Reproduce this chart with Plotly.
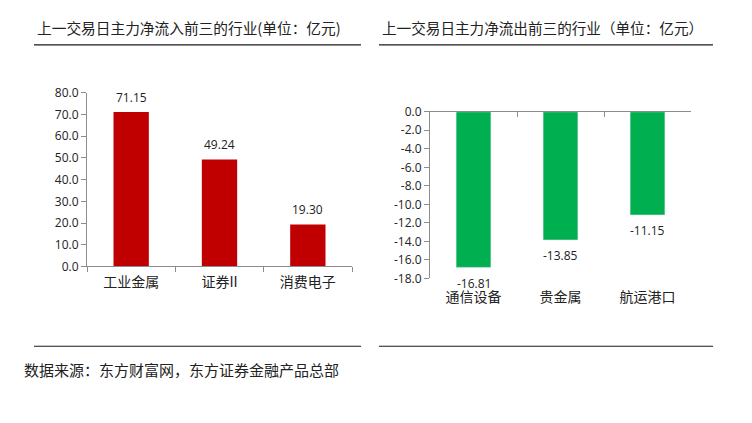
import plotly.graph_objects as go

# 数据
inflow_names = ["工业金属", "证券II", "消费电子"]
inflow_values = [71.15, 49.24, 19.30]
outflow_names = ["通信设备", "贵金属", "航运港口"]
outflow_values = [-16.81, -13.85, -11.15]
left_ticks = [0, 10, 20, 30, 40, 50, 60, 70, 80]
right_ticks = [0, -2, -4, -6, -8, -10, -12, -14, -16, -18]

title_in = "上一交易日主力净流入前三的行业(单位：亿元)"
title_out = "上一交易日主力净流出前三的行业（单位：亿元）"
source = "数据来源：东方财富网，东方证券金融产品总部"

# 截图里图形左移8px、上方偏移16px且纵向略有压缩，这里按截图像素换算
PAD_X, PAD_Y, SY = 8, 16, 0.962
W, H = 736, 423
FONT = "Open Sans, Noto Sans CJK SC, sans-serif"
CJK = "Noto Sans CJK SC, sans-serif"
AXIS = "#8c8c8c"
TXT = "#222222"


def px(x):
    return (x - PAD_X) / W


def py(y):
    return 1 - (y - PAD_Y) / SY / H


fig = go.Figure()

fig.add_trace(go.Bar(
    x=inflow_names, y=inflow_values, width=0.4,
    marker=dict(color="#C00000", line=dict(width=0)),
    xaxis="x", yaxis="y", hoverinfo="skip",
))
fig.add_trace(go.Bar(
    x=outflow_names, y=outflow_values, width=0.4,
    marker=dict(color="#00B050", line=dict(width=0)),
    xaxis="x2", yaxis="y2", hoverinfo="skip",
))
# 只用来画顶部0轴的刻度
fig.add_trace(go.Bar(
    x=outflow_names, y=outflow_values, width=0.4,
    marker=dict(color="rgba(0,0,0,0)"),
    xaxis="x3", yaxis="y2", hoverinfo="skip",
))

annotations = []
for n, v in zip(inflow_names, inflow_values):
    annotations.append(dict(x=n, y=v, xref="x", yref="y", text=f"{v:.2f}",
                            showarrow=False, yshift=15, yanchor="middle",
                            font=dict(family=FONT, size=12, color=TXT)))
for n, v in zip(outflow_names, outflow_values):
    annotations.append(dict(x=n, y=v, xref="x2", yref="y2", text=f"{v:.2f}",
                            showarrow=False, yshift=-16, yanchor="middle",
                            font=dict(family=FONT, size=12, color=TXT)))

annotations += [
    dict(x=px(35), y=py(27), xref="paper", yref="paper", text=title_in,
         showarrow=False, xanchor="left", yanchor="middle",
         font=dict(family=CJK, size=14.7, color=TXT)),
    dict(x=px(380), y=py(27), xref="paper", yref="paper", text=title_out,
         showarrow=False, xanchor="left", yanchor="middle",
         font=dict(family=CJK, size=14.6, color=TXT)),
    dict(x=px(22), y=py(369), xref="paper", yref="paper", text=source,
         showarrow=False, xanchor="left", yanchor="middle",
         font=dict(family=CJK, size=15, color=TXT)),
]

shapes = []
for x0, x1 in [(34, 361), (379, 713)]:
    for yy in (44, 346):
        shapes.append(dict(type="line", xref="paper", yref="paper",
                           x0=px(x0), x1=px(x1), y0=py(yy), y1=py(yy),
                           line=dict(color="#1a1a1a", width=1.2)))

fig.update_layout(
    width=W, height=H,
    margin=dict(l=0, r=0, t=0, b=0),
    paper_bgcolor="white", plot_bgcolor="white",
    showlegend=False,
    annotations=annotations, shapes=shapes,
    xaxis=dict(
        domain=[px(87), px(352)], anchor="y", type="category",
        showline=True, linecolor=AXIS, linewidth=1,
        ticks="outside", tickson="boundaries", ticklen=5, tickcolor=AXIS,
        ticklabelstandoff=3,
        tickfont=dict(family=CJK, size=14, color=TXT),
        showgrid=False, zeroline=False, fixedrange=True,
    ),
    yaxis=dict(
        domain=[py(266), py(92)], anchor="x", range=[0, 80],
        tickvals=left_ticks, tickformat=".1f",
        showline=True, linecolor=AXIS, linewidth=1,
        ticks="outside", ticklen=5, tickcolor=AXIS,
        tickfont=dict(family=FONT, size=12, color=TXT),
        showgrid=False, zeroline=False, fixedrange=True,
    ),
    xaxis2=dict(
        domain=[px(430), px(691)], anchor="y2", type="category",
        showline=False, ticks="outside", ticklen=0,
        ticklabelstandoff=6,
        tickfont=dict(family=CJK, size=14, color=TXT),
        showgrid=False, zeroline=False, fixedrange=True,
    ),
    xaxis3=dict(
        domain=[px(430), px(691)], anchor="y2", overlaying="x2", side="top",
        type="category",
        showline=True, linecolor=AXIS, linewidth=1,
        ticks="inside", tickson="boundaries", ticklen=5, tickcolor=AXIS,
        showticklabels=False,
        showgrid=False, zeroline=False, fixedrange=True,
    ),
    yaxis2=dict(
        domain=[py(278), py(111)], anchor="x2", range=[-18, 0],
        tickvals=right_ticks, ticktext=[f"{v:.1f}" for v in right_ticks],
        showline=True, linecolor=AXIS, linewidth=1,
        ticks="outside", ticklen=5, tickcolor=AXIS,
        tickfont=dict(family=FONT, size=12, color=TXT),
        showgrid=False, zeroline=False, fixedrange=True,
    ),
)

fig.write_html("out.html", config={"displayModeBar": False})
